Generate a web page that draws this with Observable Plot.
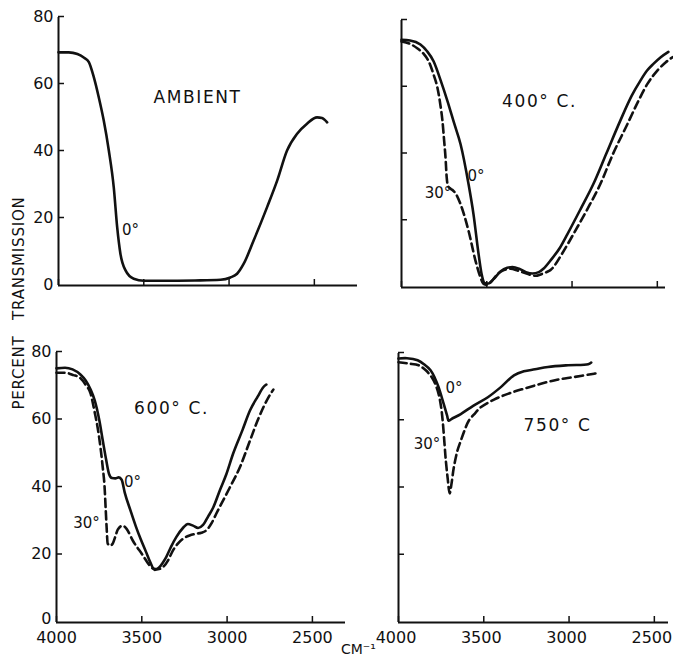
<!DOCTYPE html>
<html>
<head>
<meta charset="utf-8">
<script src="https://cdn.jsdelivr.net/npm/d3@7"></script>
<script src="https://cdn.jsdelivr.net/npm/@observablehq/plot@0.6"></script>
<style>
  body { margin: 0; background: #fff; }
  #chart { position: relative; width: 673px; height: 659px; overflow: hidden; background: #fff;
           font-family: "DejaVu Sans", sans-serif; color: #111; }
  #chart svg { position: absolute; left: 0; top: 0; }
  .ylab { position: absolute; left: 18.5px; top: 303px; transform: translate(-50%, -50%) rotate(-90deg);
          white-space: nowrap; font-size: 15px; letter-spacing: 0.8px; word-spacing: 10px; line-height: 1; }
  .xlab { position: absolute; left: 341px; top: 642px; font-size: 14px; line-height: 1; white-space: nowrap; }
</style>
</head>
<body>
<div id="chart">
  <div class="ylab">PERCENT TRANSMISSION</div>
  <div class="xlab">CM⁻¹</div>
</div>
<script>
// ---- data: [wavenumber (cm-1), percent transmission] ----
const ambient0 = [
  [4000,69.6],[3940,69.6],[3889,69.1],[3850,68],[3822,66.7],[3793,62.2],[3764,56.2],[3735,49.3],
  [3705,40.3],[3676,29.3],[3656,17.4],[3637,9.5],[3607,4.5],[3559,2],[3500,1.4],[3400,1.4],[3200,1.5],
  [3050,1.7],[2992,2.4],[2953,3.5],[2914,6.5],[2856,13.4],[2777,23.4],[2718,31.3],[2660,40.3],
  [2601,45.3],[2543,48.3],[2484,50.2],[2455,50],[2425,48.7]
];
const t400_0 = [
  [4000,74.2],[3950,74],[3889,72.8],[3850,70.8],[3812,67.8],[3770,62],[3730,55.8],[3690,49],[3654,43],
  [3607,31],[3578,22],[3548,10],[3530,4],[3510,1.3],[3490,1.2],[3460,2.5],[3420,4.8],[3380,5.9],
  [3349,6.1],[3310,5.6],[3270,4.6],[3232,4.2],[3195,4.6],[3168,5.6],[3120,8.5],[3070,12],[3027,16],
  [2950,23.5],[2875,31],[2800,40],[2717,50],[2650,57.5],[2599,62],[2560,65],[2523,67],[2480,69],[2435,70.6]
];
const t400_30 = [
  [4000,73.7],[3950,73],[3906,71.6],[3870,70],[3841,67.8],[3810,63.5],[3789,59.8],[3770,54],[3760,50],
  [3750,44],[3742,39],[3735,33],[3728,30.5],[3712,29.6],[3697,29],[3683,28.2],[3654,25],[3607,17],
  [3566,8],[3540,3.5],[3519,1.1],[3500,0.8],[3470,2],[3437,4],[3400,5.2],[3361,5.6],[3320,5.1],
  [3285,4.5],[3245,3.8],[3215,3.5],[3180,4],[3150,4.6],[3127,5.2],[3060,10],[2992,16],[2910,23.5],
  [2834,31],[2760,40],[2675,49],[2610,56],[2558,61],[2500,65],[2450,67.5],[2411,69]
];
const t600_0 = [
  [4000,75.3],[3950,75.5],[3906,75],[3860,73.5],[3829,71.7],[3800,69],[3776,65.8],[3749,59.9],
  [3729,54],[3710,48.5],[3692,44],[3675,42.8],[3655,42.7],[3635,43],[3618,42.3],[3600,38.5],
  [3565,33],[3535,28.5],[3505,24.5],[3476,21],[3450,17.8],[3424,15.6],[3400,16.2],[3376,17.8],
  [3357,19.4],[3328,22.5],[3298,25.3],[3259,28],[3230,29.2],[3200,28.7],[3170,28],[3141,28.9],
  [3110,31.5],[3082,34],[3040,39.5],[3004,44],[2965,50],[2910,57],[2866,62.8],[2820,67],[2788,69.7],[2770,70.5]
];
const t600_30 = [
  [4000,74],[3950,74],[3900,73.3],[3865,72.6],[3830,70.5],[3800,67.8],[3775,62],[3759,57.8],[3740,51],
  [3729,46],[3718,40],[3712,34],[3706,28],[3700,23.4],[3685,22.8],[3670,23.4],[3655,25.5],[3641,27.5],
  [3612,28.7],[3590,27.8],[3553,24.3],[3494,19.9],[3460,17.3],[3435,16],[3405,15.8],[3376,16.4],
  [3345,18.5],[3318,21.3],[3290,23.3],[3259,24.8],[3220,25.8],[3182,26.3],[3150,26.6],[3122,27.3],
  [3090,29.5],[3063,32.3],[3020,36.5],[2984,40],[2925,46],[2865,54],[2820,60],[2788,63.7],[2760,66.5],[2729,69]
];
const t750_0 = [
  [4000,78.5],[3950,78.6],[3888,78],[3850,76.8],[3812,75],[3785,72.5],[3765,70],[3735,65],[3715,61.5],
  [3706,60],[3690,60.5],[3635,62],[3560,64.5],[3476,67],[3400,70],[3323,73.5],[3265,74.7],[3200,75.3],
  [3124,76],[3006,76.5],[2888,76.8],[2870,77.3]
];
const t750_30 = [
  [4000,77.4],[3940,77],[3882,76.5],[3840,75],[3806,73],[3785,71],[3765,68],[3750,64],[3741,60],
  [3730,53],[3724,49],[3712,43],[3700,38.4],[3690,41],[3676,46],[3655,51],[3635,54],[3610,57.5],
  [3588,60],[3550,62.3],[3518,64],[3440,66.3],[3359,68],[3260,69.6],[3165,71],[3070,72.2],[2970,73],
  [2853,74],[2830,74.2]
];

// ---- ticks ----
const xTicks = [4000, 3500, 3000, 2500];
const xTickLabels = ["4000", "3500", "3000", "2500"];
const yTicks = [0, 20, 40, 60, 80];
const yTickLabels = ["0", "20", "40", "60", "80"];

// ---- annotations (data coordinates) ----
const titles = [
  {panel: "tl", text: "AMBIENT", x: 3185, y: 56},
  {panel: "tr", text: "400° C.", x: 3191, y: 55.8},
  {panel: "bl", text: "600° C.", x: 3326, y: 63.4},
  {panel: "br", text: "750° C", x: 3068, y: 58.6}
];
const angleLabels = [
  {panel: "tl", text: "0°", x: 3578, y: 16.4},
  {panel: "tr", text: "0°", x: 3563, y: 33.4},
  {panel: "tr", text: "30°", x: 3786, y: 28.4},
  {panel: "bl", text: "0°", x: 3555, y: 41.5},
  {panel: "bl", text: "30°", x: 3824, y: 29.3},
  {panel: "br", text: "0°", x: 3675, y: 69.6},
  {panel: "br", text: "30°", x: 3833, y: 53}
];

// ---- layout ----
const W = 673, H = 659;
const panels = [
  {id: "tl", solid: ambient0, dashed: null, curve: "monotone-x", left: 58, right: 357, top: 17, bottom: 285, xEnd: 2247, yLab: true, xLab: false, xdx: 0},
  {id: "tr", solid: t400_0, dashed: t400_30, curve: "monotone-x", left: 401, right: 665, top: 20, bottom: 287, xEnd: 2452, yLab: false, xLab: false, xdx: 0},
  {id: "bl", solid: t600_0, dashed: t600_30, curve: "monotone-x", left: 56, right: 345, top: 352, bottom: 622, xEnd: 2306, yLab: true, xLab: true, xdx: 0},
  {id: "br", solid: t750_0, dashed: t750_30, curve: "catmull-rom", left: 398, right: 668, top: 353, bottom: 622, xEnd: 2417, yLab: false, xLab: true, xdx: -2.5}
];

const ink = "#111";
const chart = document.getElementById("chart");
const titleTexts = new Set(titles.map(t => t.text));
const yFmt = d => yTickLabels[yTicks.indexOf(d)];

for (const p of panels) {
  const marks = [
    Plot.ruleY([0], {stroke: ink, strokeWidth: 2}),
    Plot.ruleX([4000], {stroke: ink, strokeWidth: 2}),
    // y ticks (inward) with labels for 20..80
    Plot.axisY({
      ticks: yTicks.filter(d => d !== 0), tickSize: -6, tickPadding: 11, stroke: ink, strokeWidth: 1.5, dy: -1,
      fill: p.yLab ? ink : "none", label: null, tickFormat: yFmt
    }),
    // the zero label, nudged up a little where the x labels sit just below it
    Plot.axisY({
      ticks: yTicks.filter(d => d === 0), tickSize: 0, tickPadding: 5, dy: p.xLab ? -4 : -1,
      fill: p.yLab ? ink : "none", label: null, tickFormat: yFmt
    }),
    Plot.axisX({
      ticks: xTicks, tickSize: -6, tickPadding: p.xLab ? 15 : 13, stroke: ink, strokeWidth: 1.5,
      fill: "none", label: null
    }),
    Plot.line(p.solid, {x: d => d[0], y: d => d[1], curve: p.curve, stroke: ink, strokeWidth: 2.6})
  ];
  if (p.xLab) {
    marks.push(Plot.axisX({
      ticks: xTicks, tickSize: 0, tickPadding: 9, dx: p.xdx, fill: ink, label: null,
      tickFormat: d => xTickLabels[xTicks.indexOf(d)]
    }));
  }
  if (p.dashed) {
    marks.push(Plot.line(p.dashed, {x: d => d[0], y: d => d[1], curve: p.curve, stroke: ink,
      strokeWidth: 2.6, strokeDasharray: "8,4.5"}));
  }
  marks.push(Plot.text(titles.filter(t => t.panel === p.id), {x: "x", y: "y", text: "text", fill: ink, fontSize: 17}));
  marks.push(Plot.text(angleLabels.filter(t => t.panel === p.id), {x: "x", y: "y", text: "text", fill: ink, fontSize: 15}));

  const svg = Plot.plot({
    width: W, height: H,
    marginLeft: p.left, marginRight: W - p.right, marginTop: p.top, marginBottom: H - p.bottom,
    x: {domain: [4000, p.xEnd]},
    y: {domain: [0, 80]},
    style: {background: "transparent", fontFamily: "DejaVu Sans, sans-serif", fontSize: "16px",
            color: ink, overflow: "visible"},
    marks
  });
  svg.querySelectorAll("text").forEach(el => {
    if (titleTexts.has(el.textContent)) el.style.letterSpacing = "1.6px";
  });
  chart.appendChild(svg);
}
</script>
</body>
</html>
